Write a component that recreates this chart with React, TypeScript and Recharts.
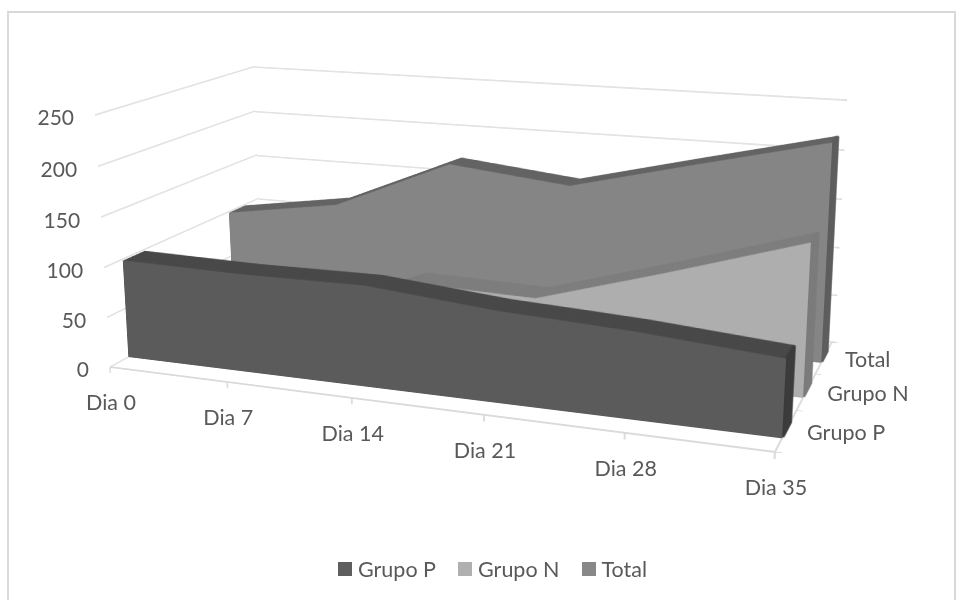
import { AreaChart, Area, LineChart, Line, XAxis, YAxis, CartesianGrid, ReferenceLine, Legend } from 'recharts';

const days = ['Dia 0', 'Dia 7', 'Dia 14', 'Dia 21', 'Dia 28', 'Dia 35'];
const grupoP = [100, 98, 99, 88, 82, 72];
const grupoN = [0, 21, 73, 70, 108, 148];
const total = [100, 119, 172, 159, 190, 220];
const seriesNames = ['Grupo P', 'Grupo N', 'Total'];
const valueTicks = [0, 50, 100, 150, 200, 250];

const MAX_VALUE = 250;
const TEXT = '#595959';
const WALL = '#dadada';
const FONT = 'Lato, sans-serif';

// every 3D layer is a normal chart of this size, warped with a CSS matrix3d
const LAYER_W = 700;
const LAYER_H = 300;
const LAYER_M = 10;
const PLOT_W = LAYER_W - 2 * LAYER_M;
const PLOT_H = LAYER_H - 2 * LAYER_M;
const layerMargin = { top: LAYER_M, right: LAYER_M, bottom: LAYER_M, left: LAYER_M };

type Pt = [number, number];

// box edges of the 3D scene on screen: top and floor of the four vertical corners
const frontLeft: [Pt, Pt] = [[95, 115], [110, 367]];
const frontRight: [Pt, Pt] = [[790, 160], [775, 452]];
const backLeft: [Pt, Pt] = [[253, 67], [263, 284]];
const backRight: [Pt, Pt] = [[844, 100], [832, 342]];

// perspective-correct step along a depth edge; nearer corners are taller
function along(front: [Pt, Pt], back: [Pt, Pt], d: number, k: 0 | 1): Pt {
  const w0 = (1 - d) / (front[1][1] - front[0][1]);
  const w1 = d / (back[1][1] - back[0][1]);
  return [
    (front[k][0] * w0 + back[k][0] * w1) / (w0 + w1),
    (front[k][1] * w0 + back[k][1] * w1) / (w0 + w1),
  ];
}

// square to quad homography, corners in order TL, TR, BR, BL
function homography(q: Pt[]) {
  const [[x0, y0], [x1, y1], [x2, y2], [x3, y3]] = q;
  const dx1 = x1 - x2, dx2 = x3 - x2, sx = x0 - x1 + x2 - x3;
  const dy1 = y1 - y2, dy2 = y3 - y2, sy = y0 - y1 + y2 - y3;
  const det = dx1 * dy2 - dx2 * dy1;
  const g = (sx * dy2 - dx2 * sy) / det;
  const h = (dx1 * sy - sx * dy1) / det;
  return [
    [x1 - x0 + g * x1, x3 - x0 + h * x3, x0],
    [y1 - y0 + g * y1, y3 - y0 + h * y3, y0],
    [g, h, 1],
  ];
}

function quadTransform(q: Pt[]) {
  const H = homography(q);
  const col0 = H.map((r) => r[0] / PLOT_W);
  const col1 = H.map((r) => r[1] / PLOT_H);
  const col2 = H.map((r) => r[2] - (r[0] * LAYER_M) / PLOT_W - (r[1] * LAYER_M) / PLOT_H);
  return `matrix3d(${col0[0]},${col0[1]},0,${col0[2]},${col1[0]},${col1[1]},0,${col1[2]},0,0,1,0,${col2[0]},${col2[1]},0,${col2[2]})`;
}

function planeAt(d: number): Pt[] {
  return [
    along(frontLeft, backLeft, d, 0),
    along(frontRight, backRight, d, 0),
    along(frontRight, backRight, d, 1),
    along(frontLeft, backLeft, d, 1),
  ];
}

// screen position of category fraction t, value v at depth d
function project(t: number, v: number, d: number): Pt {
  const H = homography(planeAt(d));
  const u = t;
  const w = 1 - v / MAX_VALUE;
  const z = H[2][0] * u + H[2][1] * w + 1;
  return [(H[0][0] * u + H[0][1] * w + H[0][2]) / z, (H[1][0] * u + H[1][1] * w + H[1][2]) / z];
}

function Layer({ quad, children }: { quad: Pt[]; children: any }) {
  return (
    <div style={{ position: 'absolute', left: 0, top: 0, width: LAYER_W, height: LAYER_H, transformOrigin: '0 0', transform: quadTransform(quad) }}>
      {children}
    </div>
  );
}

const blank = () => '';
const totalRows = days.map((day, i) => ({ day, value: total[i] }));
const axisStroke = { stroke: WALL, strokeWidth: 1.8 };

// numeric axes only get ticks once a series is attached, so the walls carry an unpainted Line
function BackWall() {
  return (
    <Layer quad={planeAt(1)}>
      <LineChart width={LAYER_W} height={LAYER_H} data={totalRows} margin={{ ...layerMargin, right: LAYER_M - 1 }}>
        <CartesianGrid vertical={false} stroke={WALL} strokeWidth={1.5} />
        <XAxis dataKey="day" hide />
        <YAxis orientation="right" width={1} domain={[0, MAX_VALUE]} ticks={valueTicks} interval={0} axisLine={false} tickSize={3} tickFormatter={blank} tickLine={axisStroke} />
        <Line dataKey="value" stroke="none" dot={false} isAnimationActive={false} />
      </LineChart>
    </Layer>
  );
}

function SideWall() {
  const quad = [frontLeft[0], backLeft[0], backLeft[1], frontLeft[1]];
  return (
    <Layer quad={quad}>
      <LineChart width={LAYER_W} height={LAYER_H} data={totalRows} margin={layerMargin}>
        <CartesianGrid vertical={false} stroke={WALL} strokeWidth={1.5} />
        <XAxis dataKey="day" hide />
        <YAxis hide domain={[0, MAX_VALUE]} ticks={valueTicks} interval={0} />
        <Line dataKey="value" stroke="none" dot={false} isAnimationActive={false} />
      </LineChart>
    </Layer>
  );
}

function FloorEdges() {
  const floor = [backLeft[1], backRight[1], frontRight[1], frontLeft[1]];
  return (
    <>
      <Layer quad={floor}>
        <LineChart width={LAYER_W} height={LAYER_H} data={totalRows} margin={{ ...layerMargin, right: LAYER_M - 1 }}>
          <XAxis dataKey="day" hide />
          <YAxis orientation="right" width={1} domain={[0, 3]} allowDataOverflow ticks={[0, 1, 2, 3]} interval={0} tickSize={6} tickFormatter={blank} axisLine={axisStroke} tickLine={axisStroke} />
          <Line dataKey="value" stroke="none" dot={false} isAnimationActive={false} />
        </LineChart>
      </Layer>
      <Layer quad={planeAt(0)}>
        <LineChart width={LAYER_W} height={LAYER_H} data={totalRows} margin={{ ...layerMargin, bottom: LAYER_M - 1 }}>
          <XAxis dataKey="day" height={1} interval={0} tickSize={7} tickFormatter={blank} axisLine={axisStroke} tickLine={axisStroke} />
          <YAxis hide domain={[0, MAX_VALUE]} />
        </LineChart>
      </Layer>
    </>
  );
}

const SLICES = 16;

// one extruded series: darker slices stepping back in depth, then the front face on top
function Slab({ values, near, far, face, top, side }: { values: number[]; near: number; far: number; face: string; top: string; side: string }) {
  const rows = days.map((day, i) => ({ day, value: values[i] }));
  const steps = Array.from({ length: SLICES + 1 }, (_, i) => SLICES - i);
  const lastDay = days[days.length - 1];
  const lastValue = values[values.length - 1];
  return (
    <>
      {steps.map((i) => (
        <Layer key={i} quad={planeAt(near + ((far - near) * i) / SLICES)}>
          <AreaChart width={LAYER_W} height={LAYER_H} data={rows} margin={layerMargin}>
            <XAxis dataKey="day" hide />
            <YAxis hide domain={[0, MAX_VALUE]} />
            <Area dataKey="value" type="linear" stroke="none" fill={i === 0 ? face : top} fillOpacity={1} isAnimationActive={false} />
            {i > 0 && <ReferenceLine segment={[{ x: lastDay, y: 0 }, { x: lastDay, y: lastValue }]} stroke={side} strokeWidth={3} />}
          </AreaChart>
        </Layer>
      ))}
    </>
  );
}

function DayTick({ payload, index }: any) {
  const [x, y] = project(index / (days.length - 1), 0, 0);
  return (
    <text x={x + 1} y={y + 35} textAnchor="middle" dominantBaseline="central" fontSize={21.5} fontFamily={FONT} fill={TEXT}>
      {payload.value}
    </text>
  );
}

function ValueTick({ payload }: any) {
  const [x, y] = project(0, payload.value, 0);
  return (
    <text x={x - 21} y={y + 1} textAnchor="end" dominantBaseline="central" fontSize={21} fontFamily={FONT} fill={TEXT}>
      {payload.value}
    </text>
  );
}

function SeriesTick({ payload }: any) {
  const [x, y] = project(1, 0, (payload.value * 2 + 1) / 6);
  return (
    <text x={x + 21} y={y + 1} textAnchor="start" dominantBaseline="central" fontSize={21.5} fontFamily={FONT} fill={TEXT}>
      {seriesNames[payload.value]}
    </text>
  );
}

const legendColors = ['#5e5e5e', '#b0b0b0', '#888888'];

function LegendRow() {
  return (
    <div style={{ display: 'flex', alignItems: 'center', fontFamily: FONT, fontSize: 21.5, color: TEXT }}>
      {seriesNames.map((name, i) => (
        <div key={name} style={{ display: 'flex', alignItems: 'center', marginRight: 22 }}>
          <span style={{ width: 14, height: 14, background: legendColors[i], marginRight: 6 }} />
          <span>{name}</span>
        </div>
      ))}
    </div>
  );
}

function Labels() {
  return (
    <div style={{ position: 'absolute', left: 0, top: 0 }}>
      <LineChart width={956} height={600} data={totalRows} margin={{ top: 0, right: 0, bottom: 0, left: 0 }}>
        <XAxis dataKey="day" height={1} interval={0} axisLine={false} tickLine={false} tick={DayTick} />
        <YAxis width={1} domain={[0, MAX_VALUE]} ticks={valueTicks} interval={0} axisLine={false} tickLine={false} tick={ValueTick} />
        <YAxis yAxisId="series" orientation="right" width={1} domain={[0, 2]} allowDataOverflow ticks={[0, 1, 2]} interval={0} axisLine={false} tickLine={false} tick={SeriesTick} />
        <Line dataKey="value" stroke="none" dot={false} isAnimationActive={false} legendType="none" />
        <Line yAxisId="series" dataKey="value" stroke="none" dot={false} isAnimationActive={false} legendType="none" />
        <Legend content={LegendRow} wrapperStyle={{ position: 'absolute', left: 338, top: 556, width: 400, bottom: 'auto' }} />
      </LineChart>
    </div>
  );
}

export default function App() {
  return (
    <div style={{ position: 'absolute', left: 0, top: 0, width: 956, height: 600, overflow: 'hidden', background: '#fff' }}>
      <div style={{ position: 'absolute', left: 7, top: 11, width: 945, height: 600, border: '2px solid #d9d9d9' }} />
      <BackWall />
      <SideWall />
      <FloorEdges />
      <Slab values={total} near={0.78} far={0.893} face="#858585" top="#636363" side="#5c5c5c" />
      <Slab values={grupoN} near={0.445} far={0.575} face="#aeaeae" top="#7d7d7d" side="#7a7a7a" />
      <Slab values={grupoP} near={0.105} far={0.23} face="#5b5b5b" top="#484848" side="#3a3a3a" />
      <Labels />
    </div>
  );
}
